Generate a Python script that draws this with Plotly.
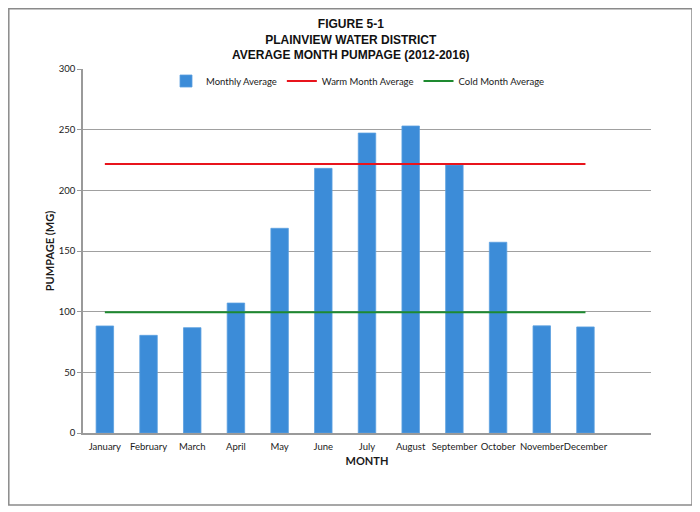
import plotly.graph_objects as go

# Average monthly pumpage (MG), 2012-2016
months = ["January", "February", "March", "April", "May", "June",
          "July", "August", "September", "October", "November", "December"]
monthly_avg = [88.2, 80.5, 86.8, 107.1, 168.7, 218.1,
               247.2, 253.0, 220.8, 157.2, 88.3, 87.4]
warm_avg = [221.7] * len(months)
cold_avg = [99.6] * len(months)

title_lines = ["FIGURE 5-1", "PLAINVIEW WATER DISTRICT",
               "AVERAGE MONTH PUMPAGE (2012-2016)"]

# the page adds an 8px body margin, so the figure is sized/positioned to compensate
OFF = 8
W, H = 700 - OFF, 512 - OFF
M_L, M_R, M_T, M_B = 75, 49, 61, 79


def page_to_paper(x, y):
    """Convert a pixel position in the browser window to paper coordinates."""
    pw = W - M_L - M_R
    ph = H - M_T - M_B
    return (x - OFF - M_L) / pw, (H - M_B - (y - OFF)) / ph


fig = go.Figure()

fig.add_trace(go.Bar(
    x=months, y=monthly_avg,
    name="Monthly Average",
    marker=dict(color="#3c8cd8", line=dict(color="#5aa0e0", width=0.8)),
    width=0.4,
))

fig.add_trace(go.Scatter(
    x=months, y=warm_avg,
    mode="lines", name="Warm Month Average",
    line=dict(color="#e8141c", width=2),
))

fig.add_trace(go.Scatter(
    x=months, y=cold_avg,
    mode="lines", name="Cold Month Average",
    line=dict(color="#1e8a30", width=2),
))

# outer frame around the whole chart
x0, y0 = page_to_paper(OFF + 0.8, 505)
x1, y1 = page_to_paper(692, OFF + 0.8)
fig.add_shape(type="rect", xref="paper", yref="paper",
              x0=x0, y0=y0, x1=x1, y1=y1,
              line=dict(color="#8a8a8a", width=1.5), layer="below")

# three-line title
tx, ty = page_to_paper(351, 39)
fig.add_annotation(
    text="<br>".join("<b>%s</b>" % t for t in title_lines),
    x=tx, y=ty, xref="paper", yref="paper",
    xanchor="center", yanchor="middle", showarrow=False, align="center",
    font=dict(family="Liberation Sans, Arial, sans-serif", size=12, color="#111"),
)

lx, ly = page_to_paper(358, 81)

fig.update_layout(
    width=W, height=H,
    margin=dict(l=M_L, r=M_R, t=M_T, b=M_B),
    paper_bgcolor="white",
    plot_bgcolor="white",
    font=dict(family="Lato, Open Sans, sans-serif", size=10, color="#1a1a1a"),
    legend=dict(
        orientation="h", x=lx, xanchor="center", y=ly, yanchor="middle",
        font=dict(family="Lato, sans-serif", size=9.5),
        bgcolor="rgba(0,0,0,0)", itemwidth=30,
    ),
    showlegend=True,
    bargap=0.6,
)

fig.update_xaxes(
    type="category", range=[-0.5, 12.5],
    showgrid=False, showline=True, linecolor="#9a9a9a", linewidth=1.5,
    ticks="", tickangle=0, ticklabelstandoff=4,
    tickfont=dict(family="Lato, sans-serif", size=9.5),
    title=dict(text="<b>MONTH</b>", standoff=6,
               font=dict(family="Lato, sans-serif", size=11)),
    fixedrange=True,
)

fig.update_yaxes(
    range=[0, 300], dtick=50,
    showgrid=True, gridcolor="#a0a0a0", gridwidth=1.2,
    showline=True, linecolor="#9a9a9a", linewidth=1.5,
    ticks="outside", ticklen=4, tickcolor="#9a9a9a",
    tickfont=dict(family="Lato, sans-serif", size=9.5),
    zeroline=False,
    title=dict(text="<b>PUMPAGE (MG)</b>", standoff=2,
               font=dict(family="Lato, sans-serif", size=11)),
    fixedrange=True,
)

fig.write_html("out.html")
